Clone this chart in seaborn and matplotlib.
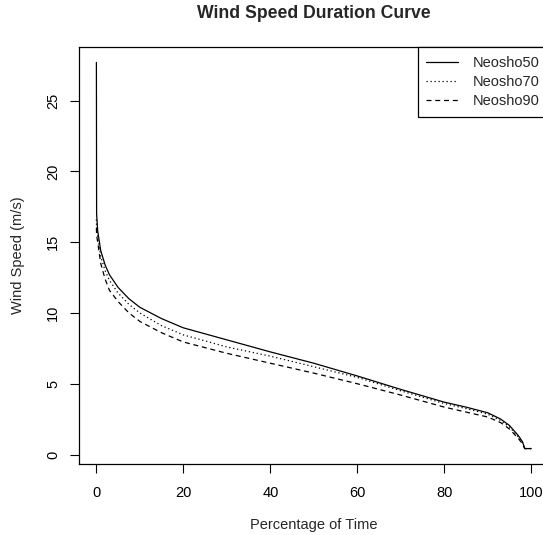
import numpy as np
import pandas as pd
import matplotlib
matplotlib.use("Agg")
import matplotlib.pyplot as plt
import seaborn as sns

# ---- data ----
pct = [0, 0.05, 0.3, 1, 2, 3, 5, 7.5, 10, 15, 20, 30, 40, 50, 60, 70, 80, 85, 90, 93, 95, 97, 98, 98.5, 100]
neosho50 = [27.7, 17.0, 15.8, 14.4, 13.4, 12.7, 11.8, 11.0, 10.4, 9.6, 8.95, 8.1, 7.25, 6.45, 5.55, 4.6, 3.7,
            3.35, 2.95, 2.5, 2.05, 1.35, 0.9, 0.42, 0.42]
neosho70 = [16.6, 16.0, 15.4, 14.0, 13.0, 12.3, 11.4, 10.6, 10.0, 9.1, 8.45, 7.6, 6.95, 6.2, 5.45, 4.5, 3.6,
            3.25, 2.85, 2.4, 1.95, 1.25, 0.85, 0.42, 0.42]
neosho90 = [16.0, 15.5, 15.0, 13.5, 12.4, 11.6, 10.8, 10.0, 9.4, 8.6, 7.95, 7.15, 6.45, 5.75, 5.0, 4.2, 3.35,
            3.0, 2.65, 2.25, 1.8, 1.15, 0.75, 0.42, 0.42]
series_names = ["Neosho50", "Neosho70", "Neosho90"]
x_ticks = [0, 20, 40, 60, 80, 100]
y_ticks = [0, 5, 10, 15, 20, 25]

sns.set_style("ticks")
plt.rcParams["font.family"] = ["Liberation Sans", "DejaVu Sans"]

fig = plt.figure(figsize=(5.43, 5.35), dpi=100)
W, H = 543, 535
left, right, top, bottom = 79, 548.6, 47, 464
ax = fig.add_axes([left / W, (H - bottom) / H, (right - left) / W, (bottom - top) / H])

styles = ["-", (0, (1, 2.2)), (0, (4, 3))]
for name, vals, ls in zip(series_names, [neosho50, neosho70, neosho90], styles):
    df = pd.DataFrame({"pct": pct, "speed": vals})
    sns.lineplot(data=df, x="pct", y="speed", ax=ax, color="black", linewidth=0.9,
                 linestyle=ls, label=name, estimator=None, sort=False)

ax.set_xlim(-4, 104)
ax.set_ylim(-0.67, 28.79)
ax.set_xticks(x_ticks)
ax.set_yticks(y_ticks)
ax.set_xticklabels([str(t) for t in x_ticks])
ax.set_yticklabels([str(t) for t in y_ticks], rotation=90, va="center")
ax.tick_params(axis="both", direction="out", length=6.5, width=0.8, colors="black", labelsize=10.5)
ax.tick_params(axis="x", pad=9)
ax.tick_params(axis="y", pad=7)
for s in ax.spines.values():
    s.set_visible(True)
    s.set_linewidth(0.9)
    s.set_color("black")

ax.set_xlabel("Percentage of Time", fontsize=10.5)
ax.set_ylabel("Wind Speed (m/s)", fontsize=10.5)
ax.xaxis.label.set_va("center")
ax.yaxis.label.set_va("center")
ax.xaxis.set_label_coords(0.5, (bottom - 525) / (bottom - top))
ax.yaxis.set_label_coords((18 - left) / (right - left), 0.5)

fig.text((left + right) / 2 / W, 1 - 13 / H, "Wind Speed Duration Curve", fontsize=12.7,
         fontweight="bold", ha="center", va="center")

leg = ax.legend(loc="upper right", borderaxespad=0, fancybox=False, edgecolor="black",
                framealpha=1, fontsize=10.5, handlelength=2.2, handletextpad=1.0,
                labelspacing=0.35, borderpad=0.6)
leg.get_frame().set_linewidth(0.9)

fig.savefig("out.png", dpi=100)
